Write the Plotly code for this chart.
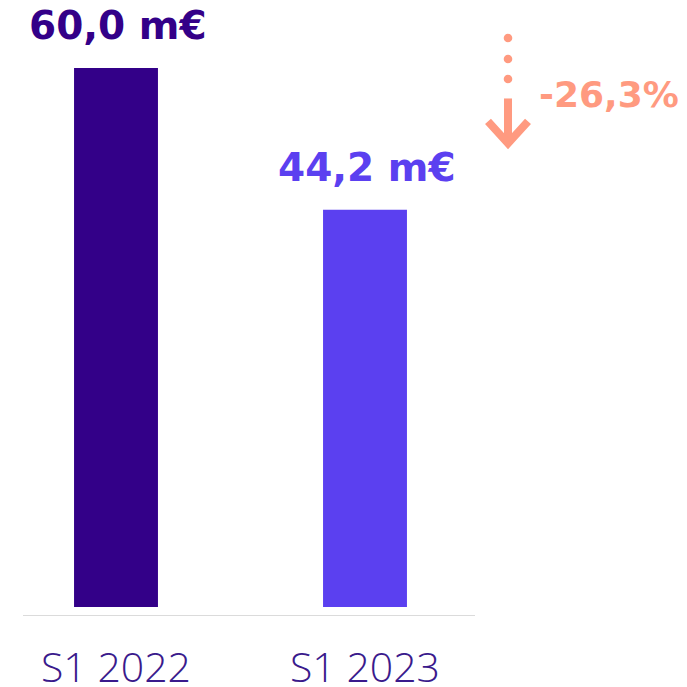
import plotly.graph_objects as go

categories = ["S1 2022", "S1 2023"]
values = [60.0, 44.2]
value_labels = ["60,0 m€", "44,2 m€"]
bar_colors = ["#330088", "#5B40F0"]
change_label = "-26,3%"

x_pos = [0, 1]
PX_X = 249.0   # pixels per x unit
PX_Y = 8.985   # pixels per y unit

fig = go.Figure()
fig.add_trace(go.Bar(
    x=x_pos, y=values, width=0.337,
    marker=dict(color=bar_colors, line=dict(width=0)),
    hoverinfo="skip",
))

# value labels above bars
for xv, v, lab, col in zip(x_pos, values, value_labels, bar_colors):
    fig.add_annotation(x=xv + 0.01, y=v, text=lab, showarrow=False,
                       xref="x", yref="y", yanchor="bottom", yshift=18,
                       font=dict(family="DejaVu Sans", size=39, color=col, weight="bold"))

salmon = "#FF9A80"
# baseline
fig.add_shape(type="line", xref="x", yref="y", x0=-0.3735, x1=1.4418, y0=-1, y1=-1,
              line=dict(color="#CFCFCF", width=1.5))

# arrow (decorative)
ax = (508 - 116) / PX_X
for yd in [63.33, 61.0, 58.76]:
    fig.add_shape(type="circle", xref="x", yref="y",
                  x0=ax - 4.3 / PX_X, x1=ax + 4.3 / PX_X,
                  y0=yd - 4.3 / PX_Y, y1=yd + 4.3 / PX_Y,
                  fillcolor=salmon, line=dict(width=0))
tip = 51.6
fig.add_shape(type="line", xref="x", yref="y", x0=ax, x1=ax, y0=56.6, y1=tip,
              line=dict(color=salmon, width=8))
dx = 20 / PX_X
dy = 22 / PX_Y
fig.add_shape(type="path", xref="x", yref="y",
              path=f"M {ax-dx},{tip+dy} L {ax},{tip} L {ax+dx},{tip+dy}",
              line=dict(color=salmon, width=8))
fig.add_annotation(x=(537 - 116) / PX_X, y=57.0, text=change_label, showarrow=False,
                   xref="x", yref="y", xanchor="left", yanchor="middle",
                   font=dict(family="DejaVu Sans", size=36, color=salmon, weight="bold"))

fig.update_layout(
    width=687, height=687,
    margin=dict(l=0, r=0, t=6, b=79, autoexpand=False),
    paper_bgcolor="white", plot_bgcolor="white",
    showlegend=False,
    xaxis=dict(range=[-108 / PX_X, (687 - 108) / PX_X], tickvals=x_pos, ticktext=categories,
               showgrid=False, zeroline=False, showline=False, ticks="",
               tickfont=dict(family="Open Sans", size=41, color="#3A1A8C", weight=300),
               ticklabelstandoff=24, automargin=False, fixedrange=True),
    yaxis=dict(range=[-1, 66], visible=False, fixedrange=True),
)

fig.write_html("out.html")
